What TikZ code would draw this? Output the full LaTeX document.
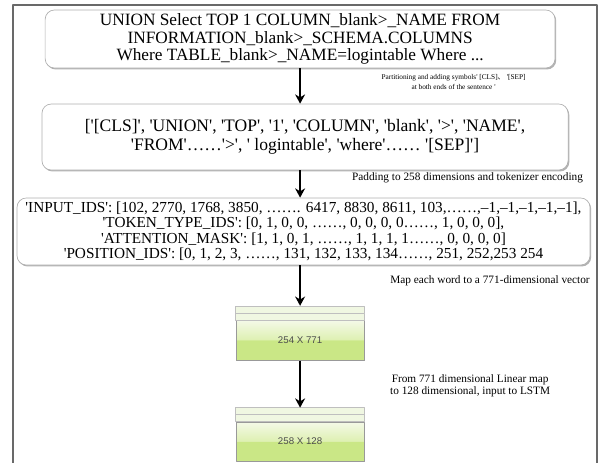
\documentclass[tikz,border=0pt]{standalone}
\usepackage{fontspec}
\setmainfont{Liberation Serif}[Ligatures=TeXOff]
\setsansfont{Liberation Sans}
\newfontfamily\cjk{Noto Sans CJK SC}
\usepackage{xcolor}
\usetikzlibrary{arrows.meta,shadows,positioning}
\definecolor{framegray}{RGB}{105,105,105}
\definecolor{boxgray}{RGB}{175,175,175}
\definecolor{glossA}{RGB}{244,249,232}
\definecolor{glossB}{RGB}{222,240,178}
\definecolor{glossC}{RGB}{202,231,134}
\definecolor{sheetfill}{RGB}{240,247,226}
\pgfdeclareverticalshading{gloss}{100bp}{color(0bp)=(glossC); color(50bp)=(glossC); color(50.5bp)=(glossB); color(75bp)=(glossA); color(100bp)=(glossA)}
\tikzset{
  every picture/.style={line join=round, >=Stealth},
  textbox/.style={draw=boxgray, fill=white, rounded corners=7pt, line width=0.5pt, align=center, inner sep=1pt,
    drop shadow={shadow xshift=0.9pt, shadow yshift=-1.1pt, fill=black!60}},
  steplabel/.style={font=\fontsize{8.5}{9.2}\selectfont, align=center, inner sep=0pt},
  flow/.style={line width=1.6pt, -{Stealth[length=7pt,width=7.5pt]}},
  gblock/.style={draw=black!40, line width=0.5pt, shading=gloss, minimum width=3.39cm,
    font=\sffamily\fontsize{7.3}{8}\selectfont, text=black!70,
    drop shadow={shadow xshift=0.6pt, shadow yshift=-0.8pt, fill=black!55}},
  sheet/.style={draw=black!25, fill=sheetfill, line width=0.4pt},
}

\begin{document}
\begin{tikzpicture}
\useasboundingbox (0,0) rectangle (16.06,-12.25);
\clip (0,0) rectangle (16.06,-12.25);
\draw[framegray, line width=1.4pt] (0.344,-0.132) rectangle (15.80,-12.6);
% text boxes
\node[textbox, minimum width=13.49cm, minimum height=1.535cm, font=\fontsize{13}{13.1}\selectfont] (query) at (7.94,-1.032)
  {UNION Select TOP 1 COLUMN\_blank>\_NAME FROM\\ INFORMATION\_blank>\_SCHEMA.COLUMNS\\ Where TABLE\_blank>\_NAME=logintable Where ...};
\node[textbox, minimum width=13.92cm, minimum height=1.746cm, font=\fontsize{13.2}{14.3}\selectfont] (tokens) at (8.07,-3.625)
  {['[CLS]', 'UNION', 'TOP', '1', 'COLUMN', 'blank', '>', 'NAME',\\ 'FROM'……'>', ' logintable', 'where'…… '[SEP]']};
\node[textbox, minimum width=15.16cm, minimum height=1.773cm, font=\fontsize{11.5}{11.5}\selectfont] (ids) at (8.03,-6.125)
  {'INPUT\_IDS': [102, 2770, 1768, 3850, ……. 6417, 8830, 8611, 103,……,–1,–1,–1,–1,–1],\\
   'TOKEN\_TYPE\_IDS': [0, 1, 0, 0, ……, 0, 0, 0, 0……, 1, 0, 0, 0],\\
   'ATTENTION\_MASK': [1, 1, 0, 1, ……, 1, 1, 1, 1……, 0, 0, 0, 0]\\
   'POSITION\_IDS': [0, 1, 2, 3, ……, 131, 132, 133, 134……, 251, 252,253 254};
% green blocks
\node[gblock, minimum height=1.06cm] (emb) at (7.94,-9.0) {254 X 771};
\draw[sheet] ([yshift=0.185cm]emb.north west) rectangle ([yshift=0.37cm]emb.north east);
\draw[sheet] (emb.north west) rectangle ([yshift=0.185cm]emb.north east);
\coordinate (emb top) at ([yshift=0.37cm]emb.north);
\node[gblock, minimum height=1.03cm] (lin) at (7.94,-11.68) {258 X 128};
\draw[sheet] ([yshift=0.185cm]lin.north west) rectangle ([yshift=0.37cm]lin.north east);
\draw[sheet] (lin.north west) rectangle ([yshift=0.185cm]lin.north east);
\coordinate (lin top) at ([yshift=0.37cm]lin.north);
% arrows
\draw[flow] (query.south -| emb) -- (tokens.north -| emb);
\draw[flow] (tokens.south -| emb) -- (ids.north -| emb);
\draw[flow] (ids.south -| emb) -- (emb top);
\draw[flow] (emb.south) -- (lin top);
% step labels
\node[steplabel, font=\fontsize{5.5}{7.5}\selectfont] (splitnote) at (12.0,-2.17) {Partitioning and adding symbols' [CLS]{\cjk 、} '[SEP]\\ at both ends of the sentence '};
\node[steplabel, anchor=east] (padnote) at (15.43,-4.71) {Padding to 258 dimensions and tokenizer encoding};
\node[steplabel, anchor=east] (mapnote) at (15.61,-7.435) {Map each word to a 771-dimensional vector};
\node[steplabel] (linnote) at (12.44,-10.21) {From 771 dimensional Linear map\\ to 128 dimensional, input to LSTM};
\end{tikzpicture}
\end{document}
